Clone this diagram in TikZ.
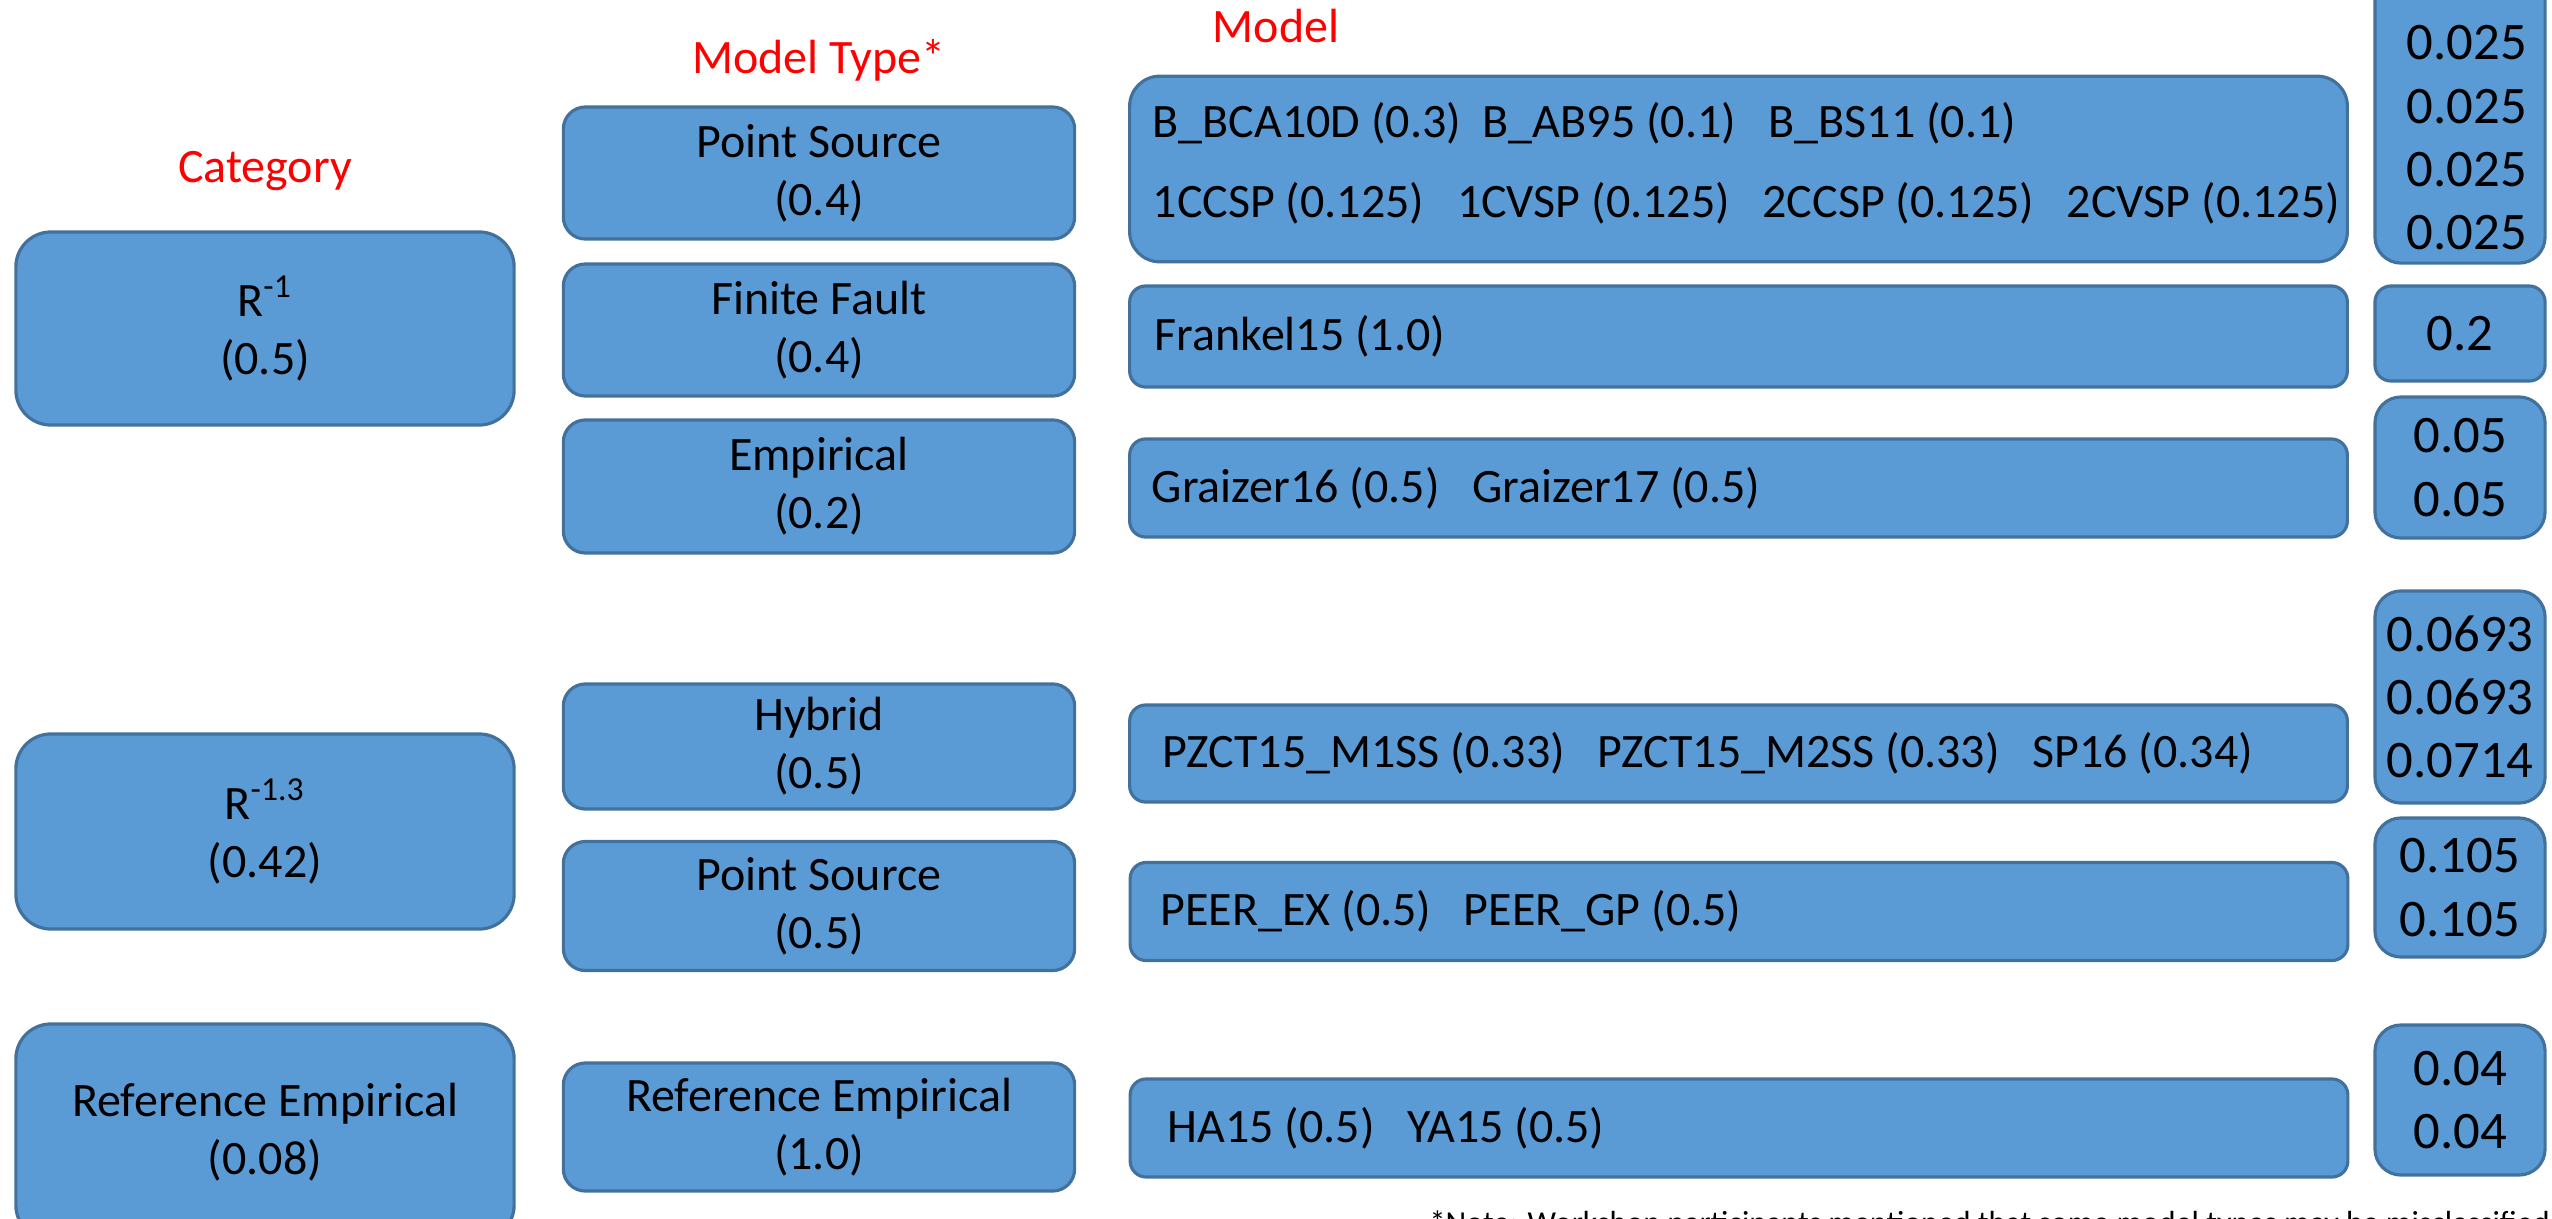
\documentclass[tikz,border=0pt]{standalone}
\usepackage{fontspec}
\setmainfont{Carlito}
\definecolor{BoxFill}{HTML}{5B9BD5}
\definecolor{BoxLine}{HTML}{41719C}
\definecolor{HeadClr}{HTML}{FF0000}

\begin{document}
\begin{tikzpicture}[x=0.01cm,y=-0.01cm,
  box/.style={draw=BoxLine,fill=BoxFill,line width=0.9pt,inner sep=0pt,align=center,
    font=\fontsize{13.65}{16.5}\selectfont},
  catbox/.style={box,rounded corners=0.35cm,minimum width=4.98cm},
  typebox/.style={box,rounded corners=0.22cm,minimum width=5.11cm},
  modelbox/.style={box,rounded corners=0.16cm,minimum width=12.17cm},
  wbox/.style={box,rounded corners=0.26cm,minimum width=1.70cm,font=\fontsize{15}{18}\selectfont},
  mtext/.style={anchor=west,inner sep=0pt,align=left,font=\fontsize{13.65}{16.5}\selectfont},
  wtext/.style={inner sep=0pt,align=center,font=\fontsize{15}{18}\selectfont},
  head/.style={inner sep=0pt,text=HeadClr,font=\fontsize{13.65}{16.5}\selectfont}]
\useasboundingbox (0,0) rectangle (2552,1218);

\node[head] (cathead) at (265,171) {Category};
\node[head] (typehead) at (819,60) {Model Type*};
\node[head] (modelhead) at (1276,26) {Model};

\node[catbox,minimum height=1.93cm] (catA) at (265,328.5) {R\textsuperscript{-1}\\(0.5)};
\node[catbox,minimum height=1.95cm] (catB) at (265,831.5) {R\textsuperscript{-1.3}\\(0.42)};
\node[catbox,minimum height=2.16cm] (catC) at (265,1132) {Reference Empirical\\(0.08)};

\node[typebox,minimum height=1.32cm] (typeA) at (819,173) {Point Source\\(0.4)};
\node[typebox,minimum height=1.32cm] (typeB) at (819,330) {Finite Fault\\(0.4)};
\node[typebox,minimum height=1.33cm] (typeC) at (819,486.5) {Empirical\\(0.2)};
\node[typebox,minimum height=1.25cm] (typeD) at (819,746.5) {Hybrid\\(0.5)};
\node[typebox,minimum height=1.29cm] (typeE) at (819,906) {Point Source\\(0.5)};
\node[typebox,minimum height=1.28cm] (typeF) at (819,1127) {Reference Empirical\\(1.0)};

\node[modelbox,minimum height=1.855cm,rounded corners=0.3cm] (modelA) at (1738.5,169) {};
\node[modelbox,minimum height=1.01cm] (modelB) at (1738.5,336.5) {};
\node[modelbox,minimum height=0.98cm] (modelC) at (1738.5,488) {};
\node[modelbox,minimum height=0.97cm] (modelD) at (1738.5,753.5) {};
\node[modelbox,minimum height=0.98cm] (modelE) at (1739,911.5) {};
\node[modelbox,minimum height=0.98cm] (modelF) at (1739,1128) {};

\node[mtext,font=\fontsize{13.65}{22.7}\selectfont] (modelAt) at (1152,163)
  {B\_BCA10D (0.3)~~B\_AB95 (0.1)~~~B\_BS11 (0.1)\\%
   1CCSP (0.125)~~~1CVSP (0.125)~~~2CCSP (0.125)~~~2CVSP (0.125)};
\node[mtext] (modelBt) at (1154,336.5) {Frankel15 (1.0)};
\node[mtext] (modelCt) at (1151,488) {Graizer16 (0.5)~~~Graizer17 (0.5)};
\node[mtext] (modelDt) at (1162,753.5) {PZCT15\_M1SS (0.33)~~~PZCT15\_M2SS (0.33)~~~SP16 (0.34)};
\node[mtext] (modelEt) at (1160,911.5) {PEER\_EX (0.5)~~~PEER\_GP (0.5)};
\node[mtext] (modelFt) at (1167,1128) {HA15 (0.5)~~~YA15 (0.5)};

\node[wbox,minimum height=3.03cm] (wtA) at (2460,111.5) {};
\node[wtext] (wtAt) at (2467,138) {0.025\\0.025\\0.025\\0.025};
\node[wbox,minimum height=0.95cm,rounded corners=0.16cm] (wtB) at (2460,333.5) {0.2};
\node[wbox,minimum height=1.41cm] (wtC) at (2460,467.5) {0.05\\0.05};
\node[wbox,minimum height=2.12cm] (wtD) at (2460,697) {0.0693\\0.0693\\0.0714};
\node[wbox,minimum height=1.39cm] (wtE) at (2460,887.5) {0.105\\0.105};
\node[wbox,minimum height=1.50cm] (wtF) at (2460,1100) {0.04\\0.04};

\node[anchor=base west,inner sep=0pt,font=\fontsize{9.1}{11}\selectfont] (note) at (1429,1233)
  {*Note: Workshop participants mentioned that some model types may be misclassified};
\end{tikzpicture}
\end{document}
